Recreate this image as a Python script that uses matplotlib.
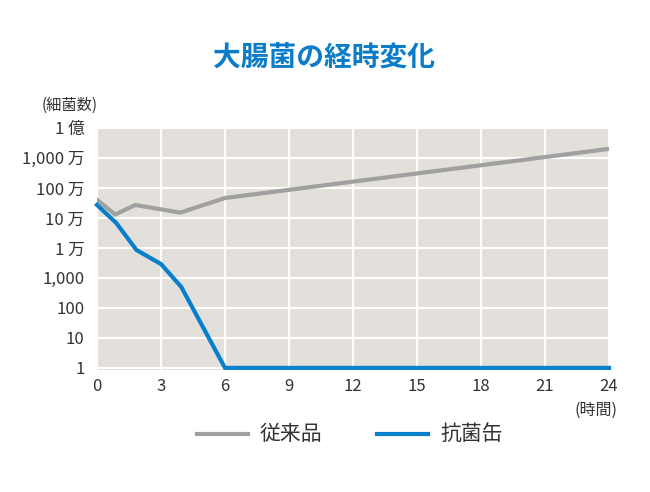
import matplotlib
matplotlib.use('Agg')
import matplotlib.pyplot as plt
from matplotlib.lines import Line2D

plt.rcParams['font.family'] = ['Noto Sans CJK JP', 'DejaVu Sans']

# time (h) and bacteria counts
conv_t = [0, 0.85, 1.8, 3.9, 6, 24]
conv_n = [4.0e5, 1.3e5, 2.7e5, 1.5e5, 4.6e5, 2.0e7]
anti_t = [0, 0.9, 1.85, 3, 3.95, 6, 24]
anti_n = [2.7e5, 6.8e4, 8.5e3, 2.9e3, 5.0e2, 1, 1]

y_ticks = [1, 10, 100, 1e3, 1e4, 1e5, 1e6, 1e7, 1e8]
y_labels = ['1', '10', '100', '1,000', '1 万', '10 万', '100 万', '1,000 万', '1 億']
x_ticks = [0, 3, 6, 9, 12, 15, 18, 21, 24]
series_names = ['従来品', '抗菌缶']

gray = '#a0a0a0'
blue = '#0780cc'
txt = '#333333'

W, H = 650, 492
fig = plt.figure(figsize=(6.5, 4.92), dpi=100)
ax = fig.add_axes([97 / W, 1 - 370 / H, 512 / W, 243 / H])
ax.set_facecolor('#e3e0dc')

ax.plot(conv_t, conv_n, color=gray, lw=3, solid_joinstyle='miter', zorder=3)
ax.plot(anti_t, anti_n, color=blue, lw=3, solid_joinstyle='miter', zorder=4, clip_on=False)

ax.set_yscale('log')
ax.set_xlim(0, 24)
ax.set_ylim(10 ** -0.07, 10 ** 8.03)
ax.set_yticks(y_ticks)
ax.set_yticklabels(y_labels)
ax.minorticks_off()
ax.set_xticks(x_ticks)
ax.set_xticklabels([str(t) for t in x_ticks])
ax.grid(True, color='white', lw=1.5)
ax.set_axisbelow(True)
for s in ax.spines.values():
    s.set_visible(False)
ax.tick_params(length=0, labelsize=12, colors=txt)
ax.tick_params(axis='y', pad=9)
ax.tick_params(axis='x', pad=6)

fig.text(324 / W, 1 - 58 / H, '大腸菌の経時変化', ha='center', va='center',
         fontsize=20, fontweight='bold', color='#0a7cc8')
fig.text(70 / W, 1 - 105 / H, '(細菌数)', ha='center', va='center', fontsize=11, color=txt)
fig.text(596 / W, 1 - 410 / H, '(時間)', ha='center', va='center', fontsize=11.5, color=txt)

# legend drawn by hand
for (x0, x1, tx), c, name in zip([(197, 248, 260), (377, 428, 440)], [gray, blue], series_names):
    fig.add_artist(Line2D([x0 / W, x1 / W], [1 - 434 / H, 1 - 434 / H], color=c, lw=3,
                          transform=fig.transFigure))
    fig.text(tx / W, 1 - 434 / H, name, ha='left', va='center', fontsize=15, color=txt)

fig.savefig('out.png', dpi=100)
